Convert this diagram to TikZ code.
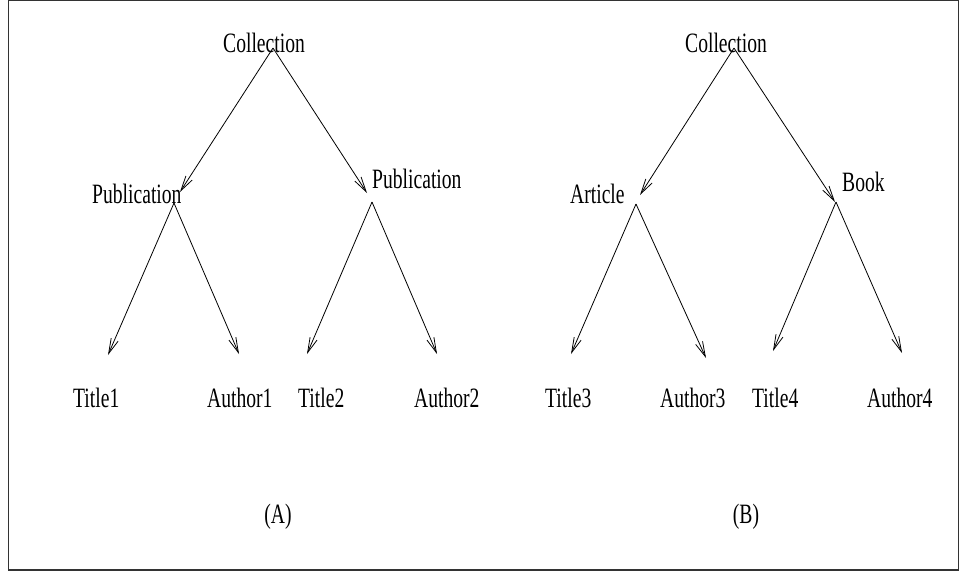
\documentclass[tikz,border=0pt]{standalone}
\usepackage{fontspec}
\setmainfont[FakeStretch=0.7]{Liberation Serif}
\usetikzlibrary{arrows.meta}
\tikzset{
  lbl/.style={anchor=base west, inner sep=0pt, font=\fontsize{28}{30}\selectfont},
  captxt/.style={anchor=base, inner sep=0pt, font=\fontsize{28}{30}\selectfont},
  edgearrow/.style={line width=0.8pt, -{Straight Barb[length=15pt,width=7.5pt,line width=0.8pt]}},
  frameline/.style={line width=1.2pt, draw=black!80}
}
\begin{document}
\begin{tikzpicture}[x=1pt,y=-1pt]
\useasboundingbox (0,0) rectangle (959,573);
\draw[frameline] (8.5,0.8) rectangle (958.3,570);

% Tree A
\node[lbl] (colA) at (223,52) {Collection};
\node[lbl] (pub1) at (92,203) {Publication};
\node[lbl] (pub2) at (372,188) {Publication};
\node[lbl] (t1) at (73,407) {Title1};
\node[lbl] (a1) at (207,407) {Author1};
\node[lbl] (t2) at (298,407) {Title2};
\node[lbl] (a2) at (414,407) {Author2};
\node[captxt] (capA) at (278,523) {(A)};

\coordinate (colAs) at (273,48);
\coordinate (pub1e) at (180,192);
\coordinate (pub2e) at (367,193);
\coordinate (pub1s) at (174,203);
\coordinate (pub2s) at (372,202);
\coordinate (t1e) at (108,355);
\coordinate (a1e) at (239,354);
\coordinate (t2e) at (307,354);
\coordinate (a2e) at (437,354);

\draw[edgearrow] (colAs) -- (pub1e);
\draw[edgearrow] (colAs) -- (pub2e);
\draw[edgearrow] (pub1s) -- (t1e);
\draw[edgearrow] (pub1s) -- (a1e);
\draw[edgearrow] (pub2s) -- (t2e);
\draw[edgearrow] (pub2s) -- (a2e);

% Tree B
\node[lbl] (colB) at (685,52) {Collection};
\node[lbl] (art) at (570,203) {Article};
\node[lbl] (book) at (842,191) {Book};
\node[lbl] (t3) at (545,407) {Title3};
\node[lbl] (a3) at (660,407) {Author3};
\node[lbl] (t4) at (752,407) {Title4};
\node[lbl] (a4) at (867,407) {Author4};
\node[captxt] (capB) at (746,523) {(B)};

\coordinate (colBs) at (734,48);
\coordinate (arte) at (640,195);
\coordinate (booke) at (835,202);
\coordinate (arts) at (636,204);
\coordinate (books) at (836,202);
\coordinate (t3e) at (571,354);
\coordinate (a3e) at (706,358);
\coordinate (t4e) at (773,351);
\coordinate (a4e) at (902,353);

\draw[edgearrow] (colBs) -- (arte);
\draw[edgearrow] (colBs) -- (booke);
\draw[edgearrow] (arts) -- (t3e);
\draw[edgearrow] (arts) -- (a3e);
\draw[edgearrow] (books) -- (t4e);
\draw[edgearrow] (books) -- (a4e);
\end{tikzpicture}
\end{document}
